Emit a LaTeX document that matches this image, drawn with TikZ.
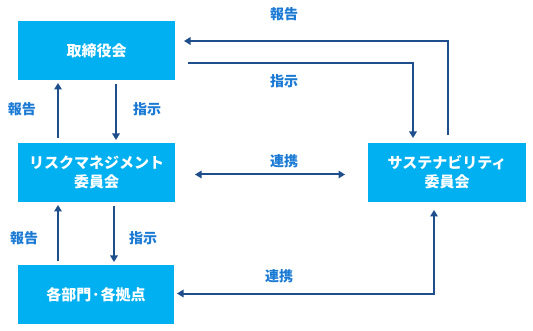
\documentclass[tikz,border=0pt]{standalone}
\usepackage{fontspec}
\setmainfont{Noto Sans CJK JP}
\usetikzlibrary{arrows.meta}
\definecolor{boxc}{HTML}{00B0F0}
\definecolor{arrc}{HTML}{1F4E8C}
\definecolor{labc}{HTML}{1A7AD4}
\begin{document}
\begin{tikzpicture}[x=1pt,y=-1pt,
  box/.style={fill=boxc,draw=none,text=white,font=\bfseries\fontsize{15}{19}\selectfont,align=center,inner sep=0pt},
  conn/.style={draw=arrc,line width=2pt,-{Triangle[length=6.5pt,width=7.5pt]}},
  both/.style={draw=arrc,line width=2pt,{Triangle[length=6.5pt,width=7.5pt]}-{Triangle[length=6.5pt,width=7.5pt]}},
  lab/.style={text=labc,font=\bfseries\fontsize{14}{16}\selectfont,inner sep=0pt}]
\useasboundingbox (0,0) rectangle (533,331);
% boxes
\node[box,minimum width=157pt,minimum height=59pt] (b1) at (96.5,50.5) {取締役会};
\node[box,minimum width=157pt,minimum height=59pt] (b2) at (96.5,172.5) {リスクマネジメント\\委員会};
\node[box,minimum width=156pt,minimum height=59pt] (b3) at (96,294.5) {各部門\kern1pt･\kern1pt各拠点};
\node[box,minimum width=158pt,minimum height=59pt] (b4) at (447,172.5) {サステナビリティ\\委員会};
% coordinates
\coordinate (u1s) at (58,138);
\coordinate (u1e) at (58,83);
\coordinate (d1s) at (116,84);
\coordinate (d1e) at (116,140);
\coordinate (u2s) at (58,261);
\coordinate (u2e) at (58,205);
\coordinate (d2s) at (114,206);
\coordinate (d2e) at (114,262);
\coordinate (rs) at (448,135);
\coordinate (rc) at (448,41);
\coordinate (re) at (184,41);
\coordinate (is) at (188,63);
\coordinate (ic) at (413,63);
\coordinate (ie) at (413,138);
\coordinate (ls) at (195,174.5);
\coordinate (le) at (345,174.5);
\coordinate (bs) at (434,210);
\coordinate (bc) at (434,293.5);
\coordinate (be) at (177,293.5);
% connectors
\draw[conn] (u1s) -- (u1e);
\draw[conn] (d1s) -- (d1e);
\draw[conn] (u2s) -- (u2e);
\draw[conn] (d2s) -- (d2e);
\draw[conn] (rs) -- (rc) -- (re);
\draw[conn] (is) -- (ic) -- (ie);
\draw[both] (ls) -- (le);
\draw[both] (bs) -- (bc) -- (be);
% labels
\node[lab] (l1) at (22,109) {報告};
\node[lab] (l2) at (147,109) {指示};
\node[lab] (l3) at (24,238) {報告};
\node[lab] (l4) at (143,238) {指示};
\node[lab] (l5) at (284,14) {報告};
\node[lab] (l6) at (284,81) {指示};
\node[lab] (l7) at (284,161) {連携};
\node[lab] (l8) at (279,276) {連携};
\end{tikzpicture}
\end{document}
